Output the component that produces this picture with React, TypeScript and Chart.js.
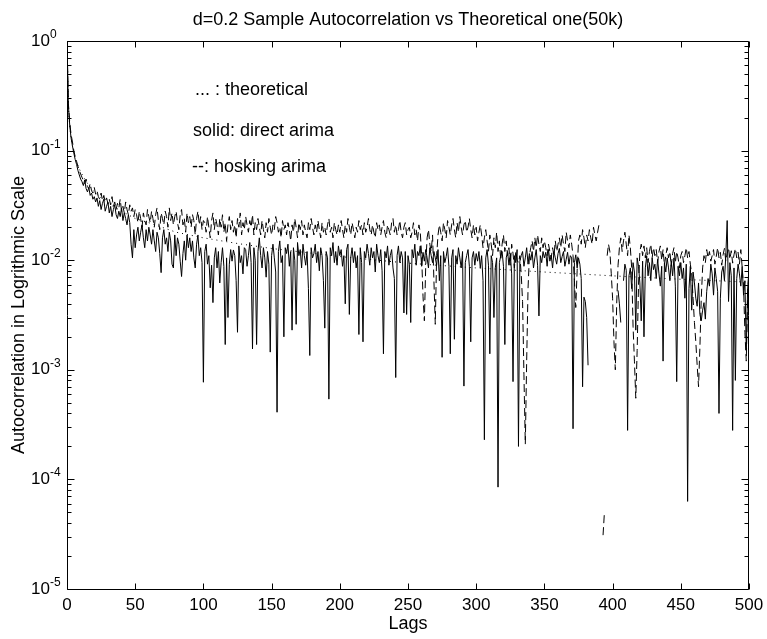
import React, { useEffect, useRef } from 'react';
import { Chart, registerables } from 'chart.js';

Chart.register(...registerables);

const FONT = "'Liberation Sans', Arial, Helvetica, sans-serif";

const TITLE = 'd=0.2 Sample Autocorrelation vs Theoretical one(50k)';
const X_LABEL = 'Lags';
const Y_LABEL = 'Autocorrelation in Logrithmic Scale';
const NOTES = ['... : theoretical', 'solid: direct arima', '--: hosking arima'];
const X_TICKS = [0, 50, 100, 150, 200, 250, 300, 350, 400, 450, 500];
const Y_EXPONENTS = [0, -1, -2, -3, -4, -5];

// theoretical autocorrelation (dotted), read at selected lags
const theoLags = [0, 1, 2, 3, 4, 5, 6, 8, 10, 13, 16, 20, 25, 30, 40, 50, 60, 80, 100, 125, 150, 200, 250, 300, 350, 400, 450, 500];
const theoValues = [1, 0.25, 0.167, 0.131, 0.11, 0.096, 0.086, 0.073, 0.064, 0.055, 0.048, 0.042, 0.037, 0.033, 0.028, 0.024, 0.022, 0.018, 0.016, 0.0142, 0.0128, 0.0108, 0.0094, 0.0085, 0.0078, 0.0072, 0.0067, 0.0063];

// direct arima (solid), index = lag 0..500, null = not drawn (non-positive)
const directArima: (number | null)[] = [
  1,
  /* 1 */ .26, .17, .13, .11, .095, .083, .075, .066, .06, .055,
  /* 11 */ .052, .048, .054, .045, .042, .046, .039, .041, .036, .038,
  /* 21 */ .034, .037, .031, .035, .029, .033, .036, .028, .031, .034,
  /* 31 */ .027, .031, .025, .029, .032, .026, .024, .028, .025, .03,
  /* 41 */ .023, .027, .024, .021, .026, .022, .014, .0105, .019, .013,
  /* 51 */ .017, .02, .015, .018, .021, .016, .013, .019, .015, .02,
  /* 61 */ .017, .014, .019, .015, .012, .018, .016, .0115, .0077, .016,
  /* 71 */ .019, .014, .016, .012, .018, .015, .0092, .0085, .017, .011,
  /* 81 */ .016, .014, .0098, .0071, .0115, .015, .01, .017, .013, .016,
  /* 91 */ .012, .015, .0105, .0085, .014, .017, .011, .013, .0095, .00077,
  /* 101 */ .012, .014, .0092, .011, .0056, .009, .0041, .0105, .013, .0085,
  /* 111 */ .012, .0062, .0095, .013, .0088, .0017, .0105, .003, .0092, .0125,
  /* 121 */ .0098, .0124, .011, .0065, .0022, .0135, .0095, .011, .0075, .013,
  /* 131 */ .0125, .0088, .011, .0145, .0095, .00155, .013, .01, .0017, .012,
  /* 141 */ .016, .011, .0085, .013, .0105, .007, .012, .0092, .00145, .011,
  /* 151 */ .014, .0105, .0078, .00041, .012, .015, .0095, .011, .002, .013,
  /* 161 */ .0115, .014, .0088, .012, .0023, .013, .01, .0026, .0145, .011,
  /* 171 */ .0125, .0085, .014, .011, .009, .012, .0055, .00135, .013, .0105,
  /* 181 */ .0115, .014, .0095, .012, .008, .013, .011, .0065, .0024, .012,
  /* 191 */ .0105, .00054, .013, .011, .0145, .0095, .012, .009, .0135, .011,
  /* 201 */ .0125, .0088, .011, .004, .0125, .014, .0032, .0105, .013, .0095,
  /* 211 */ .012, .0085, .011, .0021, .013, .0095, .0018, .012, .0105, .014,
  /* 221 */ .0115, .009, .013, .0105, .012, .0078, .014, .011, .0095, .0125,
  /* 231 */ .008, .0014, .012, .0105, .0135, .009, .011, .0125, .0085, .0068,
  /* 241 */ .00085, .011, .0135, .0095, .012, .0105, .0033, .012, .0032, .011,
  /* 251 */ .0092, .0027, .0125, .0105, .014, .009, .012, .011, .0135, .0088,
  /* 261 */ .0118, .0098, .0125, .0105, .0085, .013, .011, .0095, .012, .0105,
  /* 271 */ .009, .0125, .0065, .011, .0013, .012, .0095, .0108, .013, .0088,
  /* 281 */ .0014, .0105, .0125, .0019, .011, .0092, .013, .0105, .0085, .012,
  /* 291 */ .00071, .0095, .011, .0125, .0088, .0018, .0105, .012, .009, .0115,
  /* 301 */ .0098, .012, .0085, .011, .0065, .00023, .0105, .0125, .009, .0014,
  /* 311 */ .011, .0095, .003, .0085, .0105, .000085, .0095, .011, .012, .0088,
  /* 321 */ .0017, .0105, .012, .009, .0115, .0075, .00078, .011, .0095, .0125,
  /* 331 */ .0002, .0098, .011, .012, .0088, .0105, .013, .0092, .0115, .01,
  /* 341 */ .012, .0085, .0105, .0125, .009, .0031, .011, .0095, .012, .0105,
  /* 351 */ .0118, .0088, .0125, .0098, .011, .0085, .012, .0105, .0092, .0115,
  /* 361 */ .0128, .0095, .0108, .012, .0088, .0102, .0118, .0092, .011, .0105,
  /* 371 */ .00029, .0095, .0112, .0085, .0105, .0092, .0068, .0007, .0046, .0042,
  /* 381 */ .003, .0011, null, null, null, null, null, null, null, null,
  /* 391 */ null, null, null, null, null, null, null, null, null, null,
  /* 401 */ null, null, null, .0053, .004, .0027, null, .0065, .0092, .0081,
  /* 411 */ .00028, .0072, .0085, .0055, .0095, .0078, .0023, .0105, .0088, .0062,
  /* 421 */ .0028, .0098, .002, .0085, .011, .0072, .0095, .0065, .0105, .0082,
  /* 431 */ .0092, .0068, .0102, .0075, .0058, .0088, .0012, .0095, .0078, .0105,
  /* 441 */ .0085, .0065, .0098, .0072, .0105, .0058, .00078, .0088, .0072, .0095,
  /* 451 */ .0068, .0085, .0045, .0092, .000063, .0055, .0088, .0035, .0078, .0062,
  /* 461 */ .0045, .0038, .0062, .0032, .0028, .0035, .0041, .0029, .0052, .0068,
  /* 471 */ .0058, .0092, .0075, .0048, .0085, .0068, .0052, .0004, .0045, .0078,
  /* 481 */ .0088, .0065, .011, .023, .0042, .0095, .0072, .00028, .0085, .0008,
  /* 491 */ .0068, .0092, .0075, .0058, .0088, .0048, .0065, .0015, .0055, .0078,
];

// hosking arima (dashed), index = lag 0..500
const hoskingArima: (number | null)[] = [
  1,
  /* 1 */ .27, .18, .14, .12, .1, .088, .08, .072, .066, .061,
  /* 11 */ .057, .053, .05, .055, .047, .045, .05, .043, .041, .046,
  /* 21 */ .04, .043, .038, .036, .041, .035, .039, .034, .037, .033,
  /* 31 */ .036, .032, .038, .031, .034, .029, .033, .03, .036, .028,
  /* 41 */ .031, .027, .034, .029, .026, .032, .028, .03, .025, .029,
  /* 51 */ .026, .022, .028, .024, .02, .027, .023, .021, .029, .025,
  /* 61 */ .022, .028, .024, .02, .026, .03, .023, .019, .027, .024,
  /* 71 */ .021, .028, .025, .02, .03, .023, .027, .021, .025, .028,
  /* 81 */ .022, .019, .026, .029, .021, .024, .018, .027, .022, .025,
  /* 91 */ .02, .026, .023, .017, .024, .028, .021, .025, .019, .023,
  /* 101 */ .022, .018, .025, .02, .016, .023, .027, .019, .024, .021,
  /* 111 */ .017, .024, .02, .026, .018, .022, .015, .021, .025, .019,
  /* 121 */ .023, .018, .021, .016, .024, .02, .027, .017, .022, .019,
  /* 131 */ .025, .021, .018, .023, .02, .026, .017, .022, .019, .024,
  /* 141 */ .02, .017, .023, .019, .016, .022, .018, .024, .02, .017,
  /* 151 */ .021, .019, .025, .022, .018, .02, .016, .023, .019, .021,
  /* 161 */ .017, .022, .019, .015, .021, .018, .024, .02, .016, .022,
  /* 171 */ .019, .023, .017, .021, .018, .016, .022, .019, .024, .02,
  /* 181 */ .017, .021, .018, .023, .019, .016, .022, .018, .02, .017,
  /* 191 */ .021, .024, .018, .02, .016, .022, .019, .017, .021, .018,
  /* 201 */ .023, .019, .016, .021, .018, .024, .02, .017, .022, .019,
  /* 211 */ .016, .02, .018, .023, .019, .021, .017, .022, .018, .02,
  /* 221 */ .024, .019, .017, .021, .018, .016, .022, .019, .021, .017,
  /* 231 */ .02, .023, .018, .016, .021, .019, .017, .022, .024, .018,
  /* 241 */ .021, .017, .019, .023, .018, .016, .02, .022, .017, .019,
  /* 251 */ .02, .016, .018, .022, .017, .019, .015, .021, .018, .011,
  /* 261 */ .0047, .0028, .009, .016, .019, .014, .012, .017, .0065, .0026,
  /* 271 */ .011, .017, .021, .018, .015, .022, .019, .016, .023, .02,
  /* 281 */ .017, .021, .024, .019, .016, .022, .018, .025, .02, .017,
  /* 291 */ .021, .023, .018, .02, .024, .019, .016, .021, .017, .02,
  /* 301 */ .015, .018, .021, .017, .013, .016, .019, .015, .012, .017,
  /* 311 */ .014, .011, .016, .013, .018, .012, .015, .01, .014, .017,
  /* 321 */ .012, .015, .011, .013, .009, .014, .0115, .0085, .012, .01,
  /* 331 */ .0095, .011, .0075, .0042, .0009, .00021, .0012, .0055, .011, .013,
  /* 341 */ .015, .012, .016, .013, .017, .014, .012, .016, .013, .015,
  /* 351 */ .013, .011, .014, .012, .0105, .013, .011, .015, .012, .014,
  /* 361 */ .016, .013, .017, .014, .012, .018, .015, .013, .017, .014,
  /* 371 */ .011, .0065, .0037, .008, .015, .017, .014, .019, .016, .013,
  /* 381 */ .017, .015, .019, .016, .014, .02, .017, .015, .018, .021,
  /* 391 */ .022, null, .000031, .00005, null, .011, .014, .012, .0076, .0045,
  /* 401 */ .0018, .001, .004, .009, .013, .016, .012, .015, .018, .014,
  /* 411 */ .011, .017, .013, .0085, .0025, .0012, .00055, .0015, .006, .012,
  /* 421 */ .014, .011, .0135, .0105, .013, .0095, .012, .014, .0105, .013,
  /* 431 */ .011, .0125, .0095, .012, .0135, .01, .0125, .009, .011, .013,
  /* 441 */ .0105, .012, .0088, .0115, .013, .0095, .012, .0105, .0085, .011,
  /* 451 */ .012, .0095, .011, .013, .0105, .012, .0092, .0075, .0045, .0027,
  /* 461 */ .0018, .0011, .0007, .0016, .0045, .0085, .011, .0095, .0125, .0105,
  /* 471 */ .012, .0098, .011, .0125, .0092, .0108, .013, .0105, .0118, .009,
  /* 481 */ .0112, .0128, .0098, .0115, .013, .0102, .0122, .0094, .0112, .0128,
  /* 491 */ .0105, .0118, .0092, .0125, .0086, .0058, .0022, .0012, .0045, .0095,
];

// layout constants (pixels)
const NOTE_X = [128, 126, 125];
const NOTE_BASELINE = [54, 95, 131];

const axesPlugin = {
  id: 'matlabAxes',
  afterDraw(chart: any) {
    const { ctx, chartArea: a, scales } = chart;
    const xs = scales.x;
    const ys = scales.y;
    ctx.save();
    ctx.strokeStyle = '#000';
    ctx.lineWidth = 1;
    ctx.beginPath();
    const L = Math.round(a.left) + 0.5;
    const R = Math.round(a.right) - 0.5;
    const T = Math.round(a.top) + 0.5;
    const B = Math.round(a.bottom) + 0.5;
    ctx.moveTo(L, T); ctx.lineTo(R, T); ctx.lineTo(R, B); ctx.lineTo(L, B); ctx.closePath();
    for (const v of X_TICKS) {
      const px = Math.round(xs.getPixelForValue(v)) + 0.5;
      ctx.moveTo(px, B); ctx.lineTo(px, B - 6);
      ctx.moveTo(px, T); ctx.lineTo(px, T + 6);
    }
    for (const e of Y_EXPONENTS) {
      const py = Math.round(ys.getPixelForValue(Math.pow(10, e))) + 0.5;
      ctx.moveTo(L, py); ctx.lineTo(L + 7, py);
      ctx.moveTo(R, py); ctx.lineTo(R - 7, py);
      if (e > -5) {
        for (let m = 2; m <= 9; m++) {
          const pm = Math.round(ys.getPixelForValue(m * Math.pow(10, e - 1))) + 0.5;
          ctx.moveTo(L, pm); ctx.lineTo(L + 4, pm);
          ctx.moveTo(R, pm); ctx.lineTo(R - 4, pm);
        }
      }
    }
    ctx.stroke();

    ctx.fillStyle = '#000';
    for (const e of Y_EXPONENTS) {
      const py = ys.getPixelForValue(Math.pow(10, e));
      ctx.font = `17px ${FONT}`;
      ctx.textAlign = 'right';
      ctx.textBaseline = 'middle';
      ctx.fillText('10', a.left - 17, py);
      ctx.font = `12px ${FONT}`;
      ctx.textAlign = 'left';
      ctx.textBaseline = 'alphabetic';
      ctx.fillText(String(e), a.left - 17, py - 3);
    }

    ctx.font = `18px ${FONT}`;
    ctx.textAlign = 'left';
    ctx.textBaseline = 'alphabetic';
    NOTES.forEach((t, i) => {
      ctx.fillText(t, a.left + NOTE_X[i], a.top + NOTE_BASELINE[i]);
    });
    ctx.restore();
  },
};

export default function App() {
  const ref = useRef<HTMLCanvasElement | null>(null);

  useEffect(() => {
    if (!ref.current) return;
    const common = { borderColor: '#000', borderWidth: 1, pointRadius: 0, fill: false, tension: 0, spanGaps: false };
    const chart = new Chart(ref.current, {
      type: 'line',
      data: {
        datasets: [
          { ...common, label: 'theoretical', data: theoLags.map((x, i) => ({ x, y: theoValues[i] })), borderDash: [1, 4] },
          { ...common, label: 'hosking arima', data: hoskingArima.map((y, x) => ({ x, y })), borderDash: [8, 4] },
          { ...common, label: 'direct arima', data: directArima.map((y, x) => ({ x, y })) },
        ] as any,
      },
      options: {
        animation: false,
        responsive: false,
        events: [],
        layout: { padding: { left: 0, right: 18, top: 0, bottom: 0 } },
        plugins: {
          legend: { display: false },
          tooltip: { enabled: false },
          title: {
            display: true,
            text: TITLE,
            fullSize: false,
            color: '#000',
            font: { family: FONT, size: 18, weight: 'normal' },
            padding: { top: 9, bottom: 10.4 },
          },
        },
        scales: {
          x: {
            type: 'linear',
            min: 0,
            max: 500,
            grid: { display: false, drawTicks: false },
            border: { display: false },
            ticks: {
              stepSize: 50,
              autoSkip: false,
              maxRotation: 0,
              padding: 6,
              color: '#000',
              font: { family: FONT, size: 17 },
              callback: (v: any) => String(v),
            },
            title: { display: true, text: X_LABEL, color: '#000', font: { family: FONT, size: 18 }, padding: { top: 0, bottom: 4 } },
            afterFit: (s: any) => { s.height = 50; s.paddingLeft = 0; s.paddingRight = 0; },
          },
          y: {
            type: 'logarithmic',
            min: 1e-5,
            max: 1,
            grid: { display: false, drawTicks: false },
            border: { display: false },
            ticks: { display: false },
            title: { display: true, text: Y_LABEL, color: '#000', font: { family: FONT, size: 18 }, padding: { top: 8, bottom: 0 } },
            afterFit: (s: any) => { s.width = 67; s.paddingTop = 0; s.paddingBottom = 0; },
          },
        } as any,
      },
      plugins: [axesPlugin],
    });
    return () => chart.destroy();
  }, []);

  return (
    <div style={{ position: 'absolute', left: 0, top: 0, width: 767, height: 639, background: '#fff' }}>
      <canvas ref={ref} width={767} height={639} style={{ display: 'block' }} />
    </div>
  );
}
